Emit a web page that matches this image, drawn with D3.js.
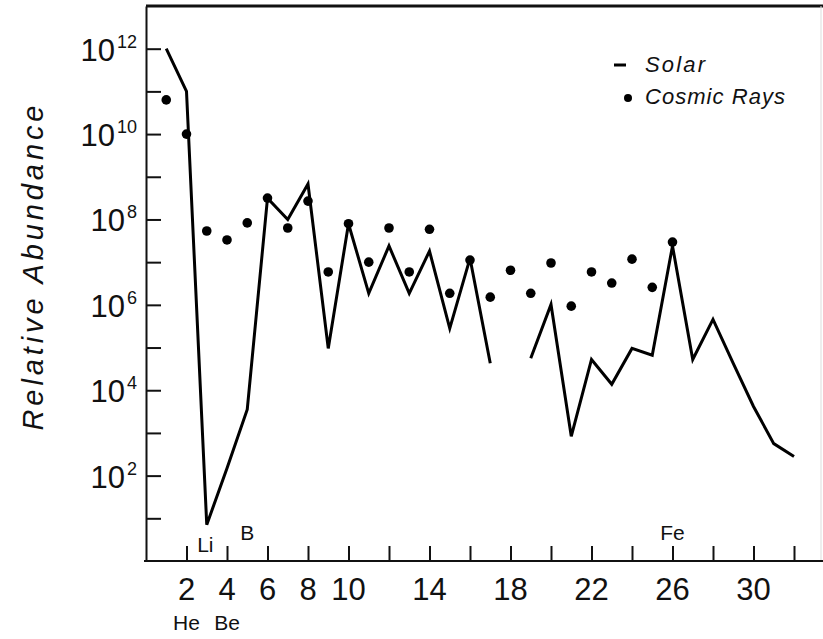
<!DOCTYPE html>
<html>
<head>
<meta charset="utf-8">
<script src="https://cdn.jsdelivr.net/npm/d3@7"></script>
<style>
  html, body { margin: 0; padding: 0; background: #fff; }
  svg { display: block; }
  text { font-family: "Liberation Sans", "DejaVu Sans", sans-serif; fill: #111; }
</style>
</head>
<body>
<svg id="chart" width="823" height="639"></svg>
<script>
// ---- data (log10 of relative abundance) ----
const atomicNumbers = [1,2,3,4,5,6,7,8,9,10,11,12,13,14,15,16,17,18,19,20,21,22,23,24,25,26,27,28,29,30,31,32];
const solarLog = [12.0,11.0,0.85,2.17,3.55,8.5,8.0,8.83,4.98,7.9,6.27,7.38,6.27,7.26,5.45,7.09,4.63,null,4.75,6.01,2.92,4.72,4.14,4.98,4.82,7.38,4.72,5.66,4.63,3.62,2.75,2.45];
const cosmicZ   = [1,2,3,4,5,6,7,8,9,10,11,12,13,14,15,16,17,18,19,20,21,22,23,24,25,26];
const cosmicLog = [10.8,10.0,7.73,7.52,7.92,8.5,7.8,8.43,6.77,7.9,7.0,7.8,6.77,7.77,6.27,7.05,6.18,6.81,6.27,6.98,5.97,6.77,6.51,7.07,6.41,7.47];
const xTicks = [2,4,6,8,10,12,14,16,18,20,22,24,26,28,30,32];
const xTickLabels = [2,4,6,8,10,14,18,22,26,30];
const yTicks = [1,2,3,4,5,6,7,8,9,10,11,12];
const yTickLabels = [2,4,6,8,10,12];
const elementLabels = [
  {name: "He", z: 2,    row: "below"},
  {name: "Be", z: 4,    row: "below"},
  {name: "Li", z: 2.93, row: "low"},
  {name: "B",  z: 5,    row: "high"},
  {name: "Fe", z: 26,   row: "high"}
];
const seriesNames = ["Solar", "Cosmic Rays"];

// ---- layout ----
const svg = d3.select("#chart");
const pLeft = 146, pBottom = 561, pTop = 6, pRight = 823;
const x = d3.scaleLinear().domain([0, 32]).range([pLeft, 794]);
const y = d3.scaleLog().domain([1, 1e13]).range([pBottom, pTop]);

// frame: top & faint right border
svg.append("path").attr("d", `M${pLeft},${pTop}H${pRight}`)
  .attr("stroke", "#111").attr("stroke-width", 3).attr("fill", "none");
svg.append("path").attr("d", `M821,${pTop}V${pBottom}`)
  .attr("stroke", "#ddd").attr("stroke-width", 1).attr("fill", "none");

// y axis
const yAxis = d3.axisLeft(y)
  .tickValues(yTicks.map(e => Math.pow(10, e)))
  .tickSize(-15).tickSizeOuter(0).tickFormat("");
const gy = svg.append("g").attr("transform", `translate(${pLeft},0)`).call(yAxis);
gy.select(".domain").attr("stroke", "#111").attr("stroke-width", 2);
gy.selectAll(".tick line").attr("stroke", "#111").attr("stroke-width", 2);

// y tick labels 10^n
yTickLabels.forEach(e => {
  const t = svg.append("text")
    .attr("x", 137).attr("y", y(Math.pow(10, e)) + 12)
    .attr("text-anchor", "end")
    .style("font-size", "31px");
  t.append("tspan").text("10");
  t.append("tspan").attr("dy", -13).attr("dx", 2).style("font-size", "18px").text(e);
});

// x axis
const xAxis = d3.axisBottom(x).tickValues(xTicks).tickSize(-15).tickSizeOuter(0).tickFormat("");
const gx = svg.append("g").attr("transform", `translate(0,${pBottom})`).call(xAxis);
gx.select(".domain").remove();
gx.selectAll(".tick line").attr("stroke", "#111").attr("stroke-width", 2);
svg.append("path").attr("d", `M${pLeft - 2},${pBottom}H${pRight}`)
  .attr("stroke", "#111").attr("stroke-width", 2).attr("fill", "none");

svg.selectAll(".xlab").data(xTickLabels).enter().append("text")
  .attr("class", "xlab")
  .attr("x", d => x(d)).attr("y", 600)
  .attr("text-anchor", "middle")
  .style("font-size", "31px")
  .text(d => d);

// element labels
const rowY = {below: 630, low: 552, high: 540};
svg.selectAll(".el").data(elementLabels).enter().append("text")
  .attr("class", "el")
  .attr("x", d => x(d.z)).attr("y", d => rowY[d.row])
  .attr("text-anchor", "middle")
  .style("font-size", "21px")
  .text(d => d.name);

// y axis title
svg.append("text")
  .attr("transform", "translate(43,268) rotate(-90)")
  .attr("text-anchor", "middle")
  .style("font-size", "29px").style("font-style", "italic")
  .attr("textLength", 325).attr("lengthAdjust", "spacing")
  .text("Relative  Abundance");

// solar line
const solarData = atomicNumbers.map((z, i) => ({z, v: solarLog[i]}));
const line = d3.line()
  .defined(d => d.v !== null)
  .x(d => x(d.z))
  .y(d => y(Math.pow(10, d.v)));
svg.append("path").datum(solarData)
  .attr("d", line)
  .attr("fill", "none").attr("stroke", "#000")
  .attr("stroke-width", 3).attr("stroke-linejoin", "miter");

// cosmic ray points
svg.selectAll(".cr").data(cosmicZ.map((z, i) => ({z, v: cosmicLog[i]}))).enter()
  .append("circle").attr("class", "cr")
  .attr("cx", d => x(d.z)).attr("cy", d => y(Math.pow(10, d.v)))
  .attr("r", 4.8).attr("fill", "#000");

// legend
svg.append("path").attr("d", "M614,65H626")
  .attr("stroke", "#000").attr("stroke-width", 3).attr("fill", "none");
svg.append("text").attr("x", 645).attr("y", 72)
  .style("font-size", "22px").style("font-style", "italic")
  .attr("textLength", 60).attr("lengthAdjust", "spacing")
  .text(seriesNames[0]);
svg.append("circle").attr("cx", 628).attr("cy", 98).attr("r", 4).attr("fill", "#000");
svg.append("text").attr("x", 645).attr("y", 104)
  .style("font-size", "22px").style("font-style", "italic")
  .attr("textLength", 140).attr("lengthAdjust", "spacing")
  .text(seriesNames[1]);
</script>
</body>
</html>
